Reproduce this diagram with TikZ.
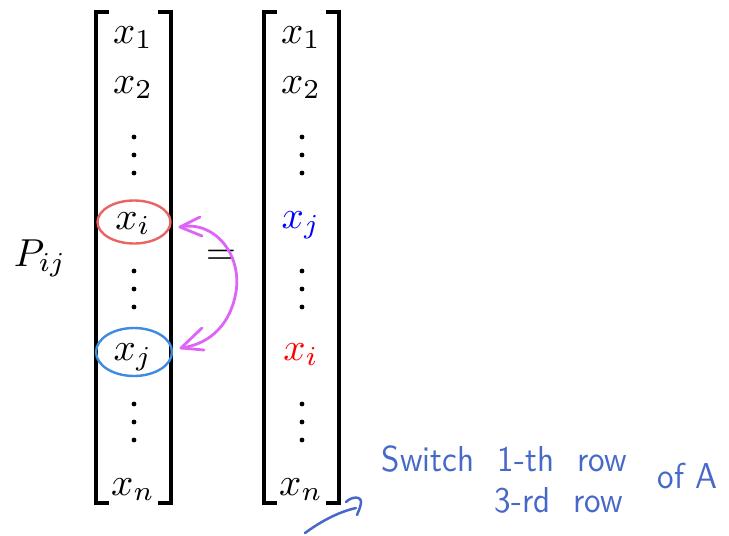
\documentclass[tikz,border=0pt]{standalone}
\usetikzlibrary{shapes.geometric}
\definecolor{redE}{RGB}{234,100,100}
\definecolor{bluE}{RGB}{60,140,225}
\definecolor{magA}{RGB}{222,100,248}
\definecolor{hand}{RGB}{70,104,200}
\begin{document}
\begin{tikzpicture}[x=1pt,y=-1pt,
  ent/.style={scale=3.9, inner sep=0pt, anchor=base},
  brk/.style={line width=3.2pt},
  ring/.style={ellipse, line width=2.4pt, inner sep=0pt},
  mag/.style={draw=magA, line width=2.8pt, line cap=round, line join=round},
  handtxt/.style={text=hand, font=\sffamily, xscale=3.3, yscale=3.6, inner sep=0pt, anchor=west},
  handln/.style={draw=hand, line width=2.5pt, line cap=round}]
\useasboundingbox (0,0) rectangle (729,536);
% P_ij and equals
\node[scale=3.9, inner sep=0pt, anchor=base west] (P) at (13,266) {$P_{ij}$};
\node[scale=3.9, inner sep=0pt] (eq) at (221,257) {$=$};
% left matrix brackets
\draw[brk] (109,12) -- (96,12) -- (96,503) -- (109,503);
\draw[brk] (158,12) -- (171,12) -- (171,503) -- (158,503);
% right matrix brackets
\draw[brk] (277,12) -- (264,12) -- (264,503) -- (277,503);
\draw[brk] (326,12) -- (339,12) -- (339,503) -- (326,503);
% left entries
\node[ent] (l1) at (133,43) {$x_1$};
\node[ent] (l2) at (133,93) {$x_2$};
\node[ent] (li) at (133,229) {$x_i$};
\node[ent] (lj) at (133,360) {$x_j$};
\node[ent] (ln) at (133,495) {$x_n$};
% right entries
\node[ent] (r1) at (301,43) {$x_1$};
\node[ent] (r2) at (301,93) {$x_2$};
\node[ent, text=blue] (rj) at (301,228) {$x_j$};
\node[ent, text=red] (ri) at (301,360) {$x_i$};
\node[ent] (rn) at (301,495) {$x_n$};
% dots
\foreach \cx in {134,302}{
  \foreach \cy in {137,155,173,271,289,307,404,422,440}{
    \fill (\cx,\cy) circle (2.4pt);
  }
}
% circles around x_i and x_j
\node[ring, draw=redE, minimum width=73pt, minimum height=43pt] (ei) at (134,222) {};
\node[ring, draw=bluE, minimum width=76pt, minimum height=48pt] (ej) at (134,352) {};
% magenta swap arrow
\coordinate (ta) at (180,227);
\coordinate (tb) at (181,348);
\draw[mag] (ta) .. controls (215,220) and (242,255) .. (236,292) .. controls (231,322) and (212,344) .. (tb);
\draw[mag] (200,217) -- (ta) -- (202,236);
\draw[mag] (202,328) -- (tb) -- (204,350);
% handwritten note
\node[handtxt] (n1) at (381,459) {Switch};
\node[handtxt] (n2) at (497,459) {1-th\hspace{0.7em}row};
\node[handtxt] (n3) at (494,500) {3-rd\hspace{0.7em}row};
\node[handtxt] (n4) at (657,476) {of A};
% small hooked arrow
\coordinate (hs) at (305,533);
\coordinate (he) at (356,508);
\draw[handln] (hs) .. controls (320,522) and (338,512) .. (he);
\draw[handln] (346,502) .. controls (352,496) and (362,496) .. (361,503) .. controls (360,509) and (358,512) .. (357,515);
\end{tikzpicture}
\end{document}
